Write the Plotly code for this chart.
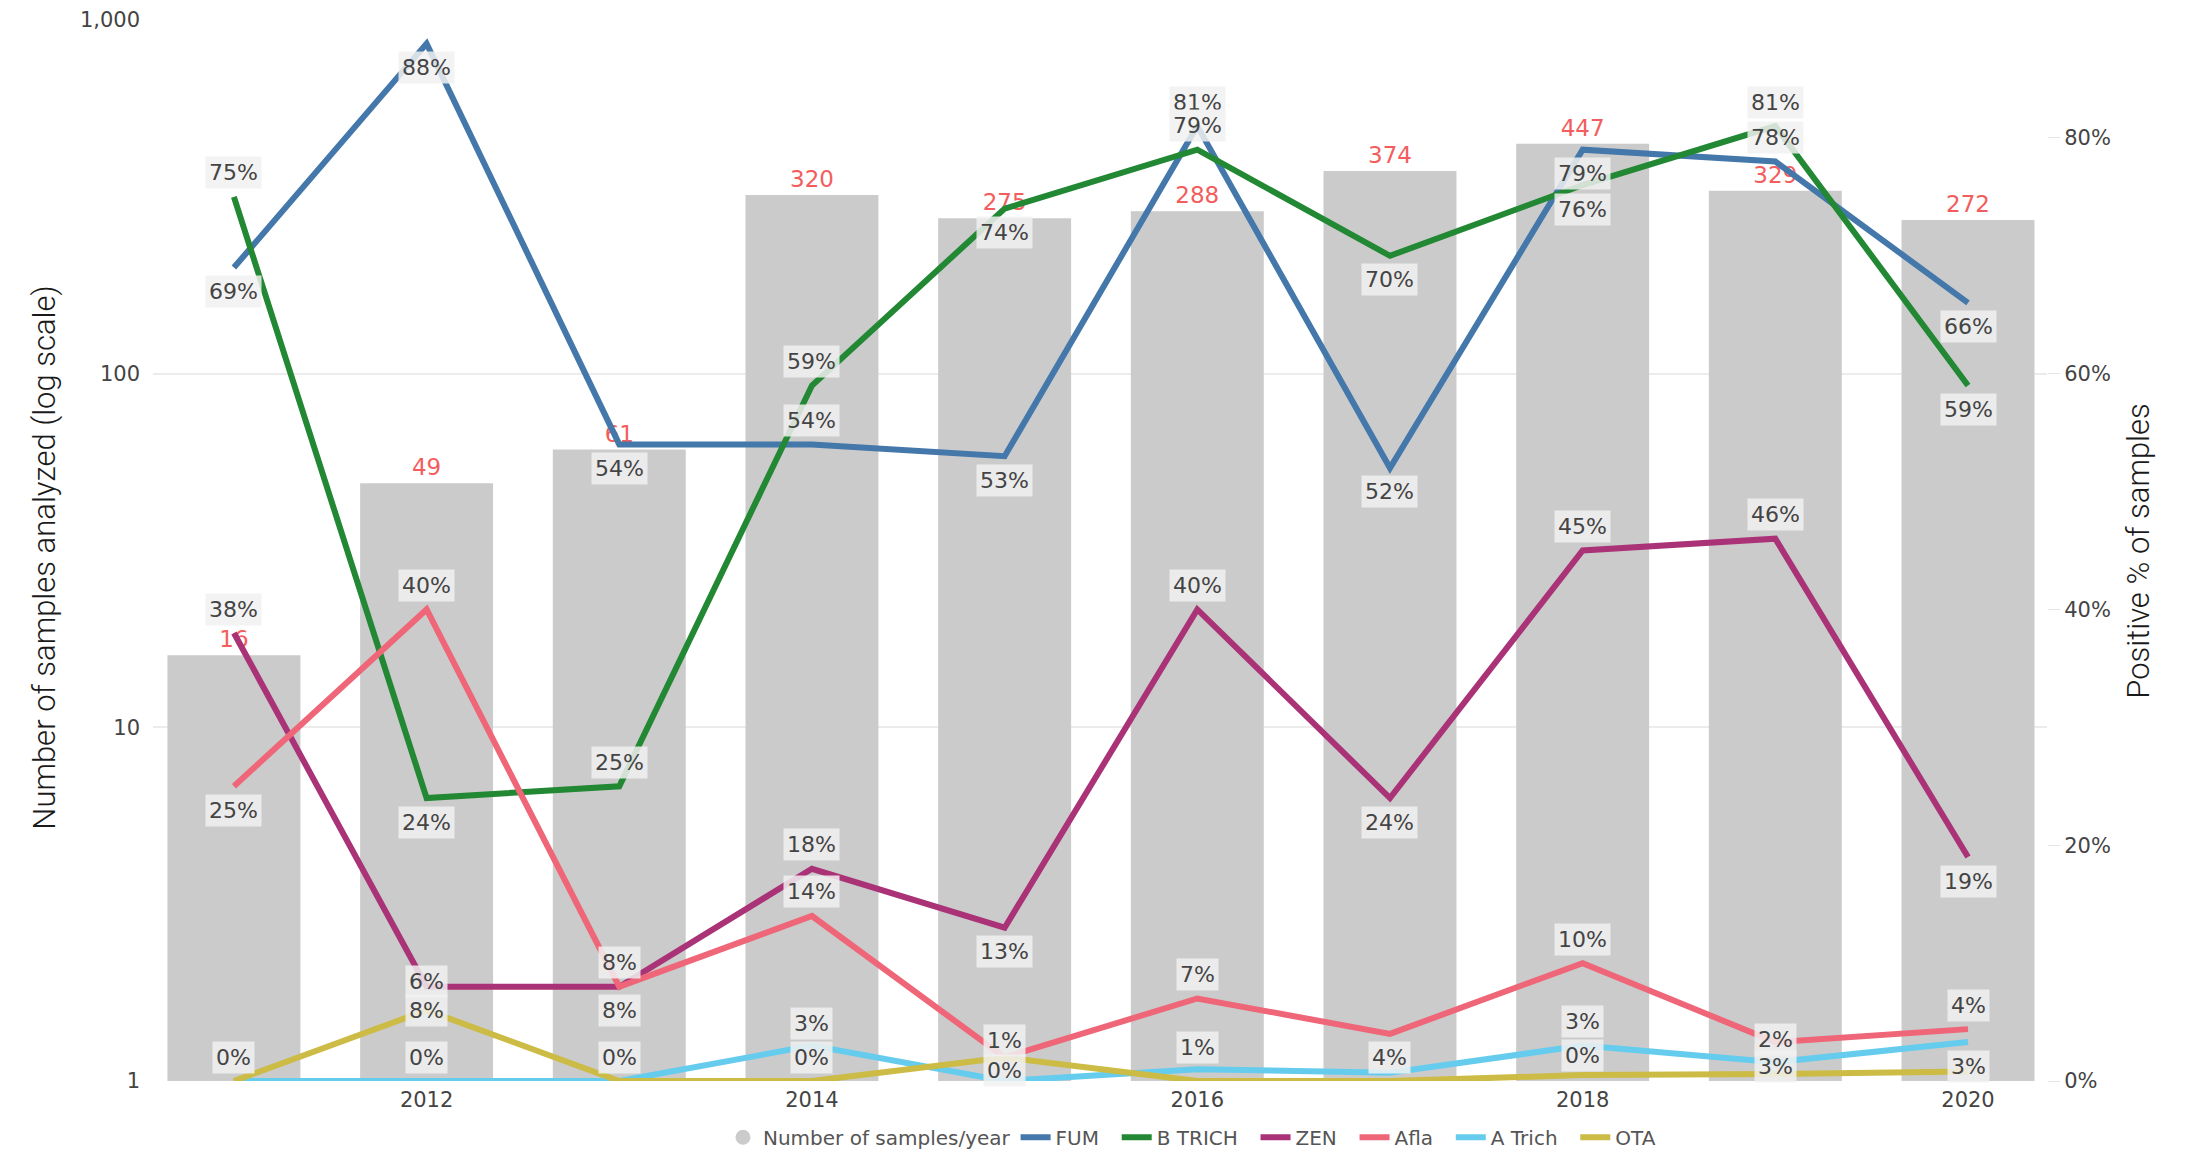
import plotly.graph_objects as go

# ---------------- data ----------------
years = [2011, 2012, 2013, 2014, 2015, 2016, 2017, 2018, 2019, 2020]
samples = [16, 49, 61, 320, 275, 288, 374, 447, 329, 272]

fum = [69, 88, 54, 54, 53, 81, 52, 79, 78, 66]
btrich = [75, 24, 25, 59, 74, 79, 70, 76, 81, 59]
zen = [38, 8, 8, 18, 13, 40, 24, 45, 46, 19]
afla = [25, 40, 8, 14, 2, 7, 4, 10, 3.3, 4.4]
atrich = [0, 0, 0, 3, 0, 1, 0.7, 3, 1.6, 3.3]
ota = [0, 6, 0, 0, 2, 0, 0, 0.5, 0.6, 0.8]

# printed data labels (None = no label shown)
fum_labels = ["69%", "88%", "54%", "54%", "53%", "81%", "52%", "79%", "78%", "66%"]
btrich_labels = ["75%", "24%", "25%", "59%", "74%", "79%", "70%", "76%", "81%", "59%"]
zen_labels = ["38%", "8%", "8%", "18%", "13%", "40%", "24%", "45%", "46%", "19%"]
afla_labels = ["25%", "40%", "8%", "14%", "1%", "7%", "4%", "10%", "2%", "4%"]
atrich_labels = ["0%", "0%", "0%", "3%", "0%", "1%", None, "3%", "3%", "3%"]
ota_labels = [None, "6%", None, "0%", None, None, None, "0%", None, None]

tick_years = [2012, 2014, 2016, 2018, 2020]
left_ticks = [1, 10, 100, 1000]
right_ticks = [0, 20, 40, 60, 80]

# ---------------- styling ----------------
series = [
    ("FUM", fum, fum_labels, "#4477AA"),
    ("B TRICH", btrich, btrich_labels, "#228833"),
    ("ZEN", zen, zen_labels, "#AA3377"),
    ("Afla", afla, afla_labels, "#EE6677"),
    ("A Trich", atrich, atrich_labels, "#66CCEE"),
    ("OTA", ota, ota_labels, "#CCBB44"),
]
# vertical label offsets in px (+ above, - below)
A, B = 24, -24
label_shift = {
    "FUM": [B, B, B, A, B, A, B, B, A, B],
    "B TRICH": [A, B, A, A, B, A, B, B, A, B],
    "ZEN": [A, B, A, A, B, A, B, A, A, B],
    "Afla": [B, A, B, A, 17, A, B, A, 3, A],
    "A Trich": [A, A, A, 22, 11, 22, 0, A, -4, B],
    "OTA": [0, 29, 0, A, 0, 0, 0, 20, 0, 0],
}

FONT = "DejaVu Sans, Verdana, sans-serif"
TXT = "#444444"
TITLE_FONT = dict(size=31, color="#1a1a1a", family="Roboto, sans-serif", weight=300)
PAD = "&nbsp;&nbsp;"

fig = go.Figure()

fig.add_trace(go.Bar(
    x=years, y=samples, width=0.69,
    marker=dict(color="#cbcbcb", line=dict(width=0)),
    text=samples, texttemplate="%{y}", textposition="outside",
    textfont=dict(color="#f35d5d", size=23, family=FONT),
    cliponaxis=False, showlegend=False, name="Number of samples/year",
))
# legend proxy (circle symbol)
fig.add_trace(go.Scatter(
    x=[None], y=[None], mode="markers", name="Number of samples/year",
    marker=dict(symbol="circle", size=15, color="#cbcbcb"),
))

for name, vals, _, col in series:
    fig.add_trace(go.Scatter(
        x=years, y=vals, mode="lines", name=name + PAD, yaxis="y2",
        line=dict(color=col, width=6),
    ))

annotations = []
for name, vals, labs, col in series:
    for xv, yv, lab, sh in zip(years, vals, labs, label_shift[name]):
        if lab is None:
            continue
        annotations.append(dict(
            x=xv, y=yv, xref="x", yref="y2", yshift=sh, text=lab,
            showarrow=False, bgcolor="rgba(241,241,241,0.85)", borderpad=3,
            font=dict(size=22, color=TXT, family=FONT),
        ))

annotations.append(dict(
    x=-0.068, y=0.493, xref="paper", yref="paper", textangle=-90,
    text="Number of samples analyzed (log scale)", showarrow=False,
    font=TITLE_FONT,
))
annotations.append(dict(
    x=1.059, y=0.5, xref="paper", yref="paper", textangle=-90,
    text="Positive % of samples", showarrow=False,
    font=TITLE_FONT,
))

# the page body adds an 8px offset; size the figure to fill the 2187x1150 window
fig.update_layout(
    width=2179, height=1142,
    margin=dict(l=145, r=140, t=12, b=69, autoexpand=False),
    paper_bgcolor="white", plot_bgcolor="white",
    font=dict(family=FONT, color=TXT, size=20),
    xaxis=dict(range=[2010.58, 2020.41], tickvals=tick_years, showgrid=False,
               zeroline=False, showline=False, ticks="", ticklabelstandoff=4,
               tickfont=dict(size=21, color=TXT)),
    yaxis=dict(type="log", range=[0, 3], tickvals=left_ticks, tickformat=",",
               showgrid=True, gridcolor="#ececec", gridwidth=1.5,
               zeroline=False, showline=False, ticks="", ticklabelstandoff=12,
               tickfont=dict(size=21, color=TXT)),
    yaxis2=dict(overlaying="y", side="right", range=[0, 90], tickvals=right_ticks,
                ticktext=[f"{v}%" for v in right_ticks],
                showgrid=False, zeroline=False, showline=False,
                ticks="outside", ticklen=12, tickcolor="#e6e6e6",
                tickfont=dict(size=21, color=TXT)),
    legend=dict(orientation="h", x=0.552, xanchor="center", y=-0.053,
                yanchor="middle", font=dict(size=20, color="#555555", family=FONT),
                bgcolor="rgba(0,0,0,0)", itemwidth=30),
    annotations=annotations,
    bargap=0.31,
)

fig.write_html("out.html")
